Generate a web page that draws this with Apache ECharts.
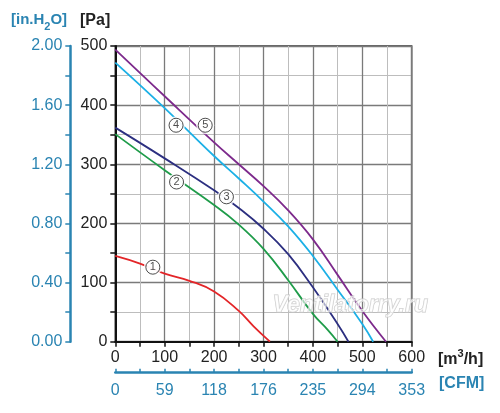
<!DOCTYPE html>
<html>
<head>
<meta charset="utf-8">
<script src="https://cdn.jsdelivr.net/npm/echarts@6/dist/echarts.min.js"></script>
<style>
html,body{margin:0;padding:0;background:#fff;}
#c{width:500px;height:413px;}
</style>
</head>
<body>
<div id="c"></div>
<script>
// Flow [m3/h] vs pressure [Pa]
const curve1 = [[0,145],[50,132],[100,115],[150,103],[200,85],[250,52],[280,26],[313,0]];
const curve2 = [[0,351],[100,290],[200,231],[250,198],[300,157],[350,104],[400,47],[430,20],[450,0]];
const curve3 = [[0,362],[100,310],[200,256],[250,226],[300,191],[350,148],[400,92],[450,30],[472,0]];
const curve4 = [[0,472],[100,395],[200,314],[250,276],[300,237],[350,195],[400,145],[450,88],[500,30],[522,0]];
const curve5 = [[0,494],[100,415],[200,337],[250,300],[300,263],[350,222],[400,173],[450,113],[500,52],[548,0]];
const curveNames = ['1','2','3','4','5'];
const curveLabels = [[76,126,'1'],[124,270,'2'],[225,245,'3'],[123,366,'4'],[182,366,'5']];
const cfmTicks = ['0','59','118','176','235','294','353'];
const flowTicksMax = 600;
const paMax = 500;
const inH2OMax = 2;

const colors = ['#e32528','#1f9c4a','#2c2f80','#1cb0e6','#7d2a8c'];
const blue = '#2a84b2';
const font = 'Liberation Sans, Arial, sans-serif';

const chart = echarts.init(document.getElementById('c'));
const curves = [curve1, curve2, curve3, curve4, curve5];

const series = curves.map((d, i) => ({
  type: 'line', name: curveNames[i], data: d, smooth: 0.45, symbol: 'none',
  xAxisIndex: 0, yAxisIndex: 0, z: 3,
  lineStyle: {color: colors[i], width: 1.8}
}));
series.push({
  type: 'scatter', xAxisIndex: 0, yAxisIndex: 0, z: 5,
  data: curveLabels, symbol: 'circle', symbolSize: 18,
  itemStyle: {color: '#fff', borderWidth: 0}, silent: true
});
series.push({
  type: 'scatter', xAxisIndex: 0, yAxisIndex: 0, z: 6,
  data: curveLabels, symbol: 'circle', symbolSize: 14,
  itemStyle: {color: '#fff', borderColor: '#222', borderWidth: 1},
  label: {show: true, position: 'inside', formatter: p => p.value[2], color: '#222', fontSize: 11, fontFamily: font}
});

chart.setOption({
  animation: false,
  backgroundColor: '#fff',
  grid: {left: 115.3, right: 88.3, top: 46, bottom: 71.3, show: true, borderColor: '#333', borderWidth: 1.5},
  xAxis: [{
    type: 'value', min: 0, max: flowTicksMax, interval: 100, position: 'bottom',
    axisLine: {show: true, onZero: false, lineStyle: {color: '#111', width: 2}},
    axisTick: {show: true, length: 5, lineStyle: {color: '#111', width: 1.5}},
    minorTick: {show: true, splitNumber: 2, length: 5, lineStyle: {color: '#111', width: 1.5}},
    axisLabel: {color: '#222', fontSize: 16, fontFamily: font, margin: 8},
    splitLine: {show: true, lineStyle: {color: '#7a7a7a', width: 1.3}},
    minorSplitLine: {show: true, lineStyle: {color: '#bdbdbd', width: 1}}
  }, {
    type: 'value', min: 0, max: flowTicksMax, interval: 100, position: 'bottom', offset: 31,
    axisLine: {show: true, onZero: false, lineStyle: {color: blue, width: 2.5}},
    axisTick: {show: true, inside: true, length: 4, lineStyle: {color: blue, width: 1.5}},
    minorTick: {show: true, splitNumber: 2, length: 4, lineStyle: {color: blue, width: 1.5}},
    axisLabel: {color: blue, fontSize: 16, fontFamily: font, margin: 10,
      formatter: v => cfmTicks[Math.round(v / 100)]},
    splitLine: {show: false}
  }],
  yAxis: [{
    type: 'value', min: 0, max: paMax, interval: 100, position: 'left',
    axisLine: {show: true, onZero: false, lineStyle: {color: '#111', width: 2}},
    axisTick: {show: true, length: 5, lineStyle: {color: '#111', width: 1.5}},
    minorTick: {show: true, splitNumber: 2, length: 5, lineStyle: {color: '#111', width: 1.5}},
    axisLabel: {color: '#222', fontSize: 16, fontFamily: font, margin: 8},
    splitLine: {show: true, lineStyle: {color: '#7a7a7a', width: 1.3}},
    minorSplitLine: {show: true, lineStyle: {color: '#bdbdbd', width: 1}}
  }, {
    type: 'value', min: 0, max: inH2OMax, interval: 0.4, position: 'left', offset: 45,
    axisLine: {show: true, onZero: false, lineStyle: {color: blue, width: 2.5}},
    axisTick: {show: true, length: 5, lineStyle: {color: blue, width: 1.5}},
    minorTick: {show: true, splitNumber: 2, length: 5, lineStyle: {color: blue, width: 1.5}},
    axisLabel: {color: blue, fontSize: 16, fontFamily: font, margin: 8, formatter: v => v.toFixed(2)},
    splitLine: {show: false}
  }],
  graphic: [
    {type: 'text', left: 11, top: 12, style: {
      text: '{a|[in.H}{s|2}{a|O]}', fill: blue,
      rich: {a: {fontSize: 15, fontWeight: 'bold', fontFamily: font, fill: blue, verticalAlign: 'top', lineHeight: 20},
             s: {fontSize: 11, fontWeight: 'bold', fontFamily: font, fill: blue, verticalAlign: 'bottom', lineHeight: 20, padding: [6,0,0,0]}}}},
    {type: 'text', left: 80, top: 13, style: {text: '[Pa]', fill: '#222', font: 'bold 16px ' + font}},
    {type: 'text', left: 438, top: 346, style: {
      text: '{a|[m}{s|3}{a|/h]}',
      rich: {a: {fontSize: 16, fontWeight: 'bold', fontFamily: font, fill: '#222', lineHeight: 22, padding: [6,0,0,0]},
             s: {fontSize: 11, fontWeight: 'bold', fontFamily: font, fill: '#222', lineHeight: 22, padding: [0,0,6,0]}}}},
    {type: 'text', left: 439, top: 376, style: {text: '[CFM]', fill: blue, font: 'bold 16px ' + font}},
    {type: 'text', left: 272, top: 294, z: 10, style: {text: 'Ventilatorry.ru', fill: 'rgba(255,255,255,0.6)', stroke: '#c8c8c8', lineWidth: 1, font: 'italic bold 23px ' + font}}
  ],
  series: series
});
</script>
</body>
</html>
